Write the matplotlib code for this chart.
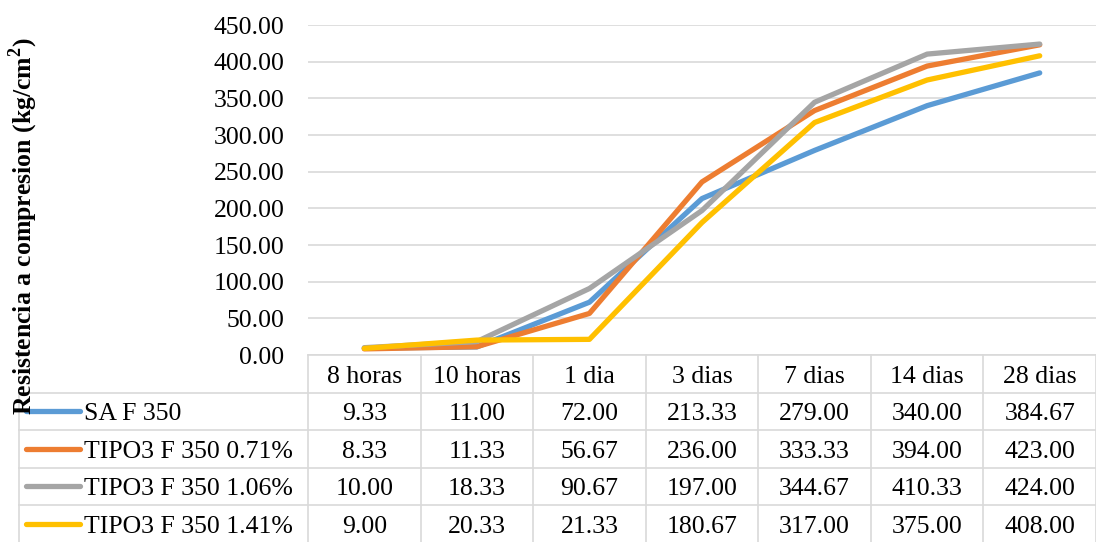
import matplotlib.pyplot as plt
from matplotlib.lines import Line2D
import matplotlib.transforms as mtransforms

edades = ["8 horas", "10 horas", "1 dia", "3 dias", "7 dias", "14 dias", "28 dias"]
series = ["SA F 350", "TIPO3 F 350 0.71%", "TIPO3 F 350 1.06%", "TIPO3 F 350 1.41%"]
sa_f350 = [9.33, 11.00, 72.00, 213.33, 279.00, 340.00, 384.67]
tipo3_071 = [8.33, 11.33, 56.67, 236.00, 333.33, 394.00, 423.00]
tipo3_106 = [10.00, 18.33, 90.67, 197.00, 344.67, 410.33, 424.00]
tipo3_141 = [9.00, 20.33, 21.33, 180.67, 317.00, 375.00, 408.00]
valores = [sa_f350, tipo3_071, tipo3_106, tipo3_141]
colores = ["#5B9BD5", "#ED7D31", "#A5A5A5", "#FFC000"]

plt.rcParams['font.family'] = ['Liberation Serif', 'DejaVu Serif']
fs = 18.5
W, H = 1096, 542
fig = plt.figure(figsize=(W / 100, H / 100), dpi=100)

# plot area in pixels
x0, x1 = 308, 1096
y_top, y_bot = 25, 355
ax = fig.add_axes([x0 / W, 1 - y_bot / H, (x1 - x0) / W, (y_bot - y_top) / H])
ax.set_xlim(-0.5, len(edades) - 0.5)
ax.set_ylim(0, 450)
ax.set_yticks(range(0, 451, 50))
ax.set_yticklabels(["%.2f" % v for v in range(0, 451, 50)], fontsize=fs)
ax.set_xticks([])
ax.tick_params(axis='y', length=0, pad=17)
ax.grid(axis='y', color='#D9D9D9', linewidth=1.2)
ax.set_axisbelow(True)
for s in ["top", "right", "left"]:
    ax.spines[s].set_visible(False)
ax.spines["bottom"].set_color('#D9D9D9')
ax.spines["bottom"].set_linewidth(1.2)

xs = list(range(len(edades)))
for vals, c in zip(valores, colores):
    ax.plot(xs, vals, color=c, linewidth=3.8, solid_capstyle='round', solid_joinstyle='round')

# data table under the plot
row_h = 37.5
txt_off = 3  # text sits a little low in the cells
def fy(py):
    return 1 - py / H

trans = mtransforms.blended_transform_factory(ax.transData, fig.transFigure)
grid_c = '#D9D9D9'
lw = 1.2
tab_left = 19
# horizontal lines
for i in range(1, 5):
    yy = y_bot + row_h * i
    fig.add_artist(Line2D([tab_left / W, 1], [fy(yy), fy(yy)], color=grid_c, lw=lw))
# vertical lines
for j in range(len(edades) + 1):
    xx = (x0 + j * (x1 - x0) / len(edades)) / W
    fig.add_artist(Line2D([xx, xx], [fy(y_bot), 0], color=grid_c, lw=lw))
fig.add_artist(Line2D([tab_left / W, tab_left / W], [fy(y_bot + row_h), 0], color=grid_c, lw=lw))

for j, e in enumerate(edades):
    fig.text(j, fy(y_bot + row_h * 0.5 + txt_off), e, transform=trans, ha='center', va='center', fontsize=fs)
for i, (name, vals, c) in enumerate(zip(series, valores, colores)):
    yc = fy(y_bot + row_h * (i + 1.5) + txt_off)
    for j, v in enumerate(vals):
        fig.text(j, yc, "%.2f" % v, transform=trans, ha='center', va='center', fontsize=fs)
    yl = fy(y_bot + row_h * (i + 1.5))
    fig.add_artist(Line2D([26 / W, 80 / W], [yl, yl], color=c, lw=3.8, solid_capstyle='round'))
    fig.text(84 / W, yc, name, ha='left', va='center', fontsize=fs)

fig.text(23 / W, fy(226), "Resistencia a compresion (kg/cm$^\\mathregular{2}$)", rotation=90,
         ha='center', va='center', fontsize=fs, fontweight='bold')

fig.savefig("out.png", dpi=100)
